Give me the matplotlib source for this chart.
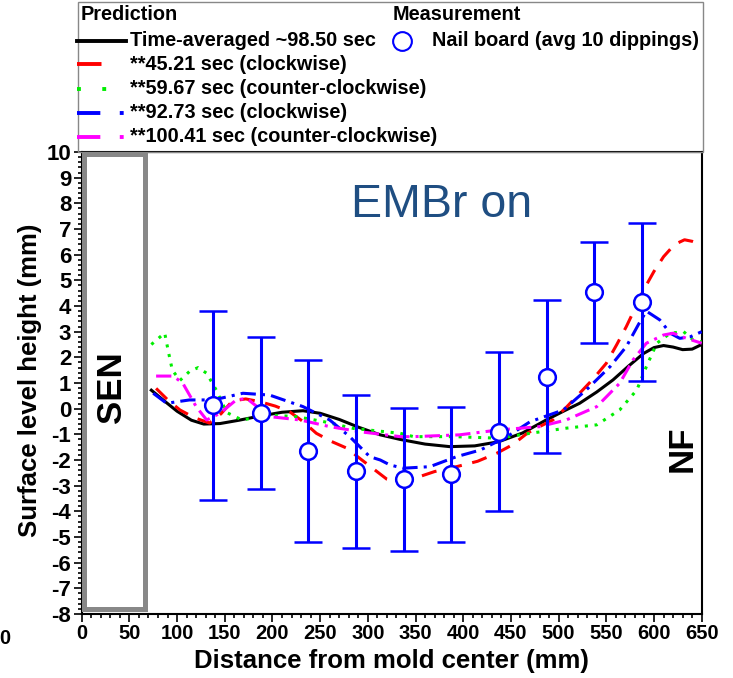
import numpy as np
import matplotlib
matplotlib.use("Agg")
import matplotlib.pyplot as plt
from matplotlib.patches import Rectangle
from matplotlib.ticker import MultipleLocator

plt.rcParams['font.family'] = ['Liberation Sans', 'DejaVu Sans']
plt.rcParams['axes.unicode_minus'] = False

# nail board measurement (avg of 10 dippings), mean and half-range
meas_x = [137.5, 187.5, 237.5, 287.5, 337.5, 387.5, 437.5, 487.5, 537.5, 587.5]
meas_y = [0.14, -0.18, -1.64, -2.43, -2.75, -2.55, -0.9, 1.24, 4.53, 4.17]
meas_err = [3.68, 2.96, 3.54, 2.98, 2.79, 2.63, 3.1, 2.98, 1.96, 3.08]

# time-averaged prediction (~98.50 sec)
avg_x = [73, 85, 100, 115, 128, 145, 165, 185, 210, 232, 250, 270, 290, 313, 334, 360,
         386, 412, 437, 462, 487, 505, 522, 540, 557, 573, 589, 600, 610, 620, 630, 640, 650]
avg_y = [0.72, 0.35, -0.1, -0.45, -0.6, -0.58, -0.45, -0.3, -0.14, -0.08, -0.18, -0.42, -0.72,
         -1.02, -1.2, -1.38, -1.48, -1.45, -1.29, -0.95, -0.44, -0.1, 0.21, 0.65, 1.12, 1.65,
         2.15, 2.38, 2.46, 2.4, 2.3, 2.32, 2.5]

# instantaneous predictions
t45_x = [78, 90, 103, 118, 134, 146, 158, 172, 187, 203, 218, 232, 246, 262, 278, 292, 306,
         320, 334, 350, 370, 393, 415, 435, 452, 467, 481, 494, 508, 522, 536, 550, 561, 571,
         580, 589, 600, 610, 618, 624, 632, 640, 650]
t45_y = [0.79, 0.35, -0.05, -0.35, -0.56, -0.2, 0.3, 0.38, 0.27, 0.1, -0.12, -0.5, -0.96,
         -1.28, -1.54, -1.95, -2.35, -2.75, -2.9, -2.7, -2.45, -2.26, -2.05, -1.74, -1.4,
         -0.96, -0.68, -0.44, 0.05, 0.6, 1.15, 1.77, 2.5, 3.2, 3.9, 4.62, 5.35, 5.92, 6.25,
         6.44, 6.58, 6.52, 6.38]

t59_x = [73, 87, 91, 95, 103, 113, 122, 131, 141, 152, 168, 197, 225, 253, 285, 334, 348,
         390, 437, 470, 508, 540, 564, 582, 592, 603, 617, 631, 641, 650]
t59_y = [2.5, 2.95, 2.2, 1.5, 1.1, 1.45, 1.6, 1.38, 0.73, -0.15, -0.44, -0.25, -0.31, -0.5,
         -0.77, -0.96, -1.09, -1.09, -1.15, -0.96, -0.76, -0.63, -0.05, 0.73, 1.64, 2.55,
         2.94, 3.0, 2.68, 2.6]

t92_x = [75, 89, 113, 138, 169, 197, 232, 260, 281, 302, 313, 323, 337, 365, 393, 418, 446,
         470, 505, 529, 554, 571, 584, 592, 606, 617, 627, 638, 650]
t92_y = [0.6, 0.21, 0.34, 0.34, 0.6, 0.53, 0.08, -0.44, -1.09, -1.87, -2.0, -2.19, -2.32,
         -2.26, -1.87, -1.61, -1.09, -0.51, -0.05, 0.73, 1.64, 2.42, 3.3, 3.8, 3.46, 2.94,
         2.74, 2.8, 3.0]

t100_x = [78, 96, 106, 120, 131, 145, 162, 173, 197, 229, 260, 292, 334, 348, 396, 437, 480,
          508, 540, 564, 578, 592, 610, 620, 634, 650]
t100_y = [1.27, 1.27, 0.99, 0.08, -0.44, -0.18, 0.34, 0.4, -0.31, -0.44, -0.7, -0.9, -1.09,
          -1.09, -1.02, -0.83, -0.7, -0.44, 0.08, 0.99, 1.9, 2.55, 2.87, 2.94, 2.74, 2.55]

# (x, y, label, colour, plot dashes, legend-handle dashes)
series = [
    (avg_x, avg_y, 'Time-averaged ~98.50 sec', 'black', '-', '-'),
    (t45_x, t45_y, '**45.21 sec (clockwise)', '#ff0000', (0, (5, 3.5)), (0, (6.3, 6.3))),
    (t59_x, t59_y, '**59.67 sec (counter-clockwise)', '#00ee00', (0, (1, 2.2)), (0, (1, 5.5))),
    (t92_x, t92_y, '**92.73 sec (clockwise)', '#0000ff', (0, (5, 2, 1, 2)), (0, (6, 5, 1, 5))),
    (t100_x, t100_y, '**100.41 sec (counter-clockwise)', '#ff00ff', (0, (5, 2, 1, 2)),
     (0, (6, 5, 1, 5))),
]

fig = plt.figure(figsize=(7.33, 6.78), dpi=100)
ax = fig.add_axes([81.7 / 733, 64 / 678, 620 / 733, 462 / 678])

for x, y, lab, col, ls, _ in series:
    ax.plot(x, y, color=col, ls=ls, lw=2.2, zorder=3)

ax.errorbar(meas_x, meas_y, yerr=meas_err, fmt='o', color='#0000ff', ecolor='#0000ff',
            elinewidth=2.2, capsize=10, capthick=2.2, ms=12, mfc='white', mec='#0000ff',
            mew=1.8, zorder=4)

ax.set_xlim(0, 650)
ax.set_ylim(-8, 10)
ax.xaxis.set_major_locator(MultipleLocator(50))
ax.xaxis.set_minor_locator(MultipleLocator(10))
ax.yaxis.set_major_locator(MultipleLocator(1))
ax.yaxis.set_minor_locator(MultipleLocator(0.2))
ax.tick_params(which='both', direction='out', width=1.2)
ax.tick_params(which='major', length=6, pad=1.5)
ax.tick_params(which='minor', length=3)
ax.tick_params(axis='x', labelsize=14.5)
ax.tick_params(axis='y', labelsize=16)
for lbl in ax.get_xticklabels() + ax.get_yticklabels():
    lbl.set_fontweight('bold')
for s in ax.spines.values():
    s.set_linewidth(1.5)

ax.set_xlabel('Distance from mold center (mm)', fontsize=18.5, fontweight='bold', va='center')
ax.set_ylabel('Surface level height (mm)', fontsize=18.5, fontweight='bold', va='center')
ax.xaxis.set_label_coords(0.499, -0.102)
ax.yaxis.set_label_coords(-0.084, 0.505)

# SEN outline and labels
ax.add_patch(Rectangle((2, -7.8), 64, 17.74, fill=False, ec='#888888', lw=3.6,
                       clip_on=False, zorder=5))
ax.text(31, 0.85, 'SEN', rotation=90, ha='center', va='center', fontsize=25,
        fontweight='bold')
ax.text(629, -1.57, 'NF', rotation=90, ha='center', va='center', fontsize=25,
        fontweight='bold')
ax.text(377, 7.46, 'EMBr on', ha='center', va='baseline', fontsize=33.5, color='#1f4e82')

# legend panel above the plot, laid out in pixel units
lax = fig.add_axes([0, 0, 1, 1])
lax.set_xlim(0, 733)
lax.set_ylim(678, 0)
lax.axis('off')
lax.add_patch(Rectangle((78.3, 1.7), 625, 150.3, fill=False, ec='#888888', lw=1))
lax.text(80.5, 15, 'Prediction', fontsize=14.3, fontweight='bold', va='center')
lax.text(393, 15, 'Measurement', fontsize=14.3, fontweight='bold', va='center')
rows = [40.7, 64.3, 89, 113, 137]
for (x, y, lab, col, _, hls), ry in zip(series, rows):
    lax.plot([77, 126], [ry, ry], color=col, ls=hls, lw=2.8)
    lax.text(130, ry, lab, fontsize=14.3, fontweight='bold', va='center')
lax.plot([402], [40.7], 'o', ms=13.5, mfc='white', mec='#0000ff', mew=1.5)
lax.text(432, 40.7, 'Nail board (avg 10 dippings)', fontsize=14.3, fontweight='bold',
         va='center')
lax.text(4.5, 639, '0', fontsize=14.5, fontweight='bold', ha='center', va='center')

fig.savefig('out.png', dpi=100)
